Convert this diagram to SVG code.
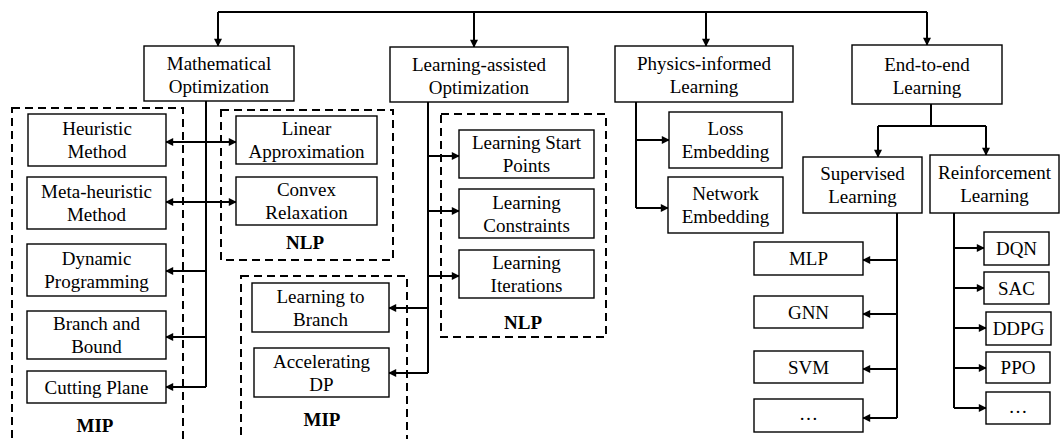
<svg xmlns="http://www.w3.org/2000/svg" width="1061" height="439" viewBox="0 0 1061 439">
<style>
.box{fill:#fff;stroke:#000;stroke-width:1.4}
.dash{fill:none;stroke:#000;stroke-width:2;stroke-dasharray:8 5}
.c{fill:none;stroke:#000;stroke-width:2}
.ar{marker-end:url(#ah)}
.ar2{marker-start:url(#ah);marker-end:url(#ah)}
text{font-family:"Liberation Serif","Times New Roman",serif;font-size:19px;fill:#000;text-anchor:middle}
.b{font-weight:bold}
</style>
<defs>
<marker id="ah" viewBox="0 0 10 10" refX="9" refY="5" markerWidth="9" markerHeight="8" orient="auto-start-reverse" markerUnits="userSpaceOnUse"><path d="M0,0 L10,5 L0,10 z" fill="#000"/></marker>
</defs>
<rect width="1061" height="439" fill="#fff"/>
<g id="groups">
<rect class="dash" x="12" y="108" width="171" height="345"/>
<text class="b" x="95" y="432">MIP</text>
<rect class="dash" x="221" y="110" width="172" height="150"/>
<text class="b" x="305" y="249">NLP</text>
<rect class="dash" x="241" y="276" width="166" height="180"/>
<text class="b" x="322" y="426">MIP</text>
<rect class="dash" x="441" y="114" width="165" height="223"/>
<text class="b" x="523" y="329">NLP</text>
</g>
<g id="connectors">
<path class="c" d="M218,12 H927"/>
<path class="c ar" d="M218,12 V46"/>
<path class="c ar" d="M474,12 V47"/>
<path class="c ar" d="M706,12 V46"/>
<path class="c ar" d="M927,12 V45"/>
<path class="c" d="M206,101 V387"/>
<path class="c ar2" d="M166,142 H236"/>
<path class="c ar2" d="M166,202 H236"/>
<path class="c ar" d="M206,271 H166"/>
<path class="c ar" d="M206,337 H166"/>
<path class="c ar" d="M206,387 H166"/>
<path class="c" d="M428,102 V373"/>
<path class="c ar" d="M428,156 H459"/>
<path class="c ar" d="M428,211 H459"/>
<path class="c ar" d="M428,276 H459"/>
<path class="c ar" d="M428,308 H389"/>
<path class="c ar" d="M428,373 H389"/>
<path class="c" d="M636,102 V208"/>
<path class="c ar" d="M636,140 H669"/>
<path class="c ar" d="M636,208 H668"/>
<path class="c" d="M931,104 V126 M878,126 H986"/>
<path class="c ar" d="M878,126 V157"/>
<path class="c ar" d="M986,126 V155"/>
<path class="c" d="M897,213 V418"/>
<path class="c ar" d="M897,260 H863"/>
<path class="c ar" d="M897,314 H863"/>
<path class="c ar" d="M897,369 H863"/>
<path class="c ar" d="M897,418 H863"/>
<path class="c" d="M954,213 V408"/>
<path class="c ar" d="M954,248 H984"/>
<path class="c ar" d="M954,288 H984"/>
<path class="c ar" d="M954,328 H986"/>
<path class="c ar" d="M954,368 H986"/>
<path class="c ar" d="M954,408 H986"/>
</g>
<g id="math"><rect class="box" x="144" y="46" width="150" height="55"/><text x="219" y="69.5">Mathematical</text><text x="219" y="92.5">Optimization</text></g>
<g id="la"><rect class="box" x="390" y="47" width="178" height="55"/><text x="479" y="70.5">Learning-assisted</text><text x="479" y="93.5">Optimization</text></g>
<g id="pil"><rect class="box" x="615" y="46" width="178" height="56"/><text x="704" y="70">Physics-informed</text><text x="704" y="93">Learning</text></g>
<g id="e2e"><rect class="box" x="852" y="45" width="150" height="59"/><text x="927" y="71">End-to-end</text><text x="927" y="94">Learning</text></g>
<g id="heuristic"><rect class="box" x="28" y="114" width="138" height="52"/><text x="97" y="135">Heuristic</text><text x="97" y="158">Method</text></g>
<g id="meta"><rect class="box" x="27" y="177" width="139" height="52"/><text x="96.5" y="198">Meta-heuristic</text><text x="96.5" y="221">Method</text></g>
<g id="dp"><rect class="box" x="27" y="244" width="139" height="52"/><text x="96.5" y="265">Dynamic</text><text x="96.5" y="288">Programming</text></g>
<g id="bb"><rect class="box" x="27" y="311" width="139" height="48"/><text x="96.5" y="330">Branch and</text><text x="96.5" y="353">Bound</text></g>
<g id="cp"><rect class="box" x="27" y="371" width="139" height="32"/><text x="96.5" y="393.5">Cutting Plane</text></g>
<g id="linear"><rect class="box" x="236" y="116" width="141" height="48"/><text x="306.5" y="135">Linear</text><text x="306.5" y="158">Approximation</text></g>
<g id="convex"><rect class="box" x="236" y="177" width="141" height="48"/><text x="306.5" y="196">Convex</text><text x="306.5" y="219">Relaxation</text></g>
<g id="l2b"><rect class="box" x="252" y="283" width="137" height="49"/><text x="320.5" y="302.5">Learning to</text><text x="320.5" y="325.5">Branch</text></g>
<g id="adp"><rect class="box" x="254" y="348" width="135" height="49"/><text x="321.5" y="367.5">Accelerating</text><text x="321.5" y="390.5">DP</text></g>
<g id="lsp"><rect class="box" x="459" y="130" width="135" height="48"/><text x="526.5" y="149">Learning Start</text><text x="526.5" y="172">Points</text></g>
<g id="lc"><rect class="box" x="459" y="189" width="135" height="49"/><text x="526.5" y="208.5">Learning</text><text x="526.5" y="231.5">Constraints</text></g>
<g id="li"><rect class="box" x="459" y="250" width="135" height="48"/><text x="526.5" y="269">Learning</text><text x="526.5" y="292">Iterations</text></g>
<g id="loss"><rect class="box" x="669" y="112" width="113" height="56"/><text x="725.5" y="135">Loss</text><text x="725.5" y="158">Embedding</text></g>
<g id="net"><rect class="box" x="668" y="177" width="115" height="56"/><text x="725.5" y="200">Network</text><text x="725.5" y="223">Embedding</text></g>
<g id="sl"><rect class="box" x="803" y="157" width="119" height="56"/><text x="862.5" y="180">Supervised</text><text x="862.5" y="203">Learning</text></g>
<g id="rl"><rect class="box" x="930" y="155" width="129" height="58"/><text x="994.5" y="179">Reinforcement</text><text x="994.5" y="202">Learning</text></g>
<g id="mlp"><rect class="box" x="754" y="242" width="109" height="33"/><text x="808.5" y="265">MLP</text></g>
<g id="gnn"><rect class="box" x="754" y="296" width="109" height="32"/><text x="808.5" y="318.5">GNN</text></g>
<g id="svm"><rect class="box" x="754" y="351" width="109" height="32"/><text x="808.5" y="373.5">SVM</text></g>
<g id="sdots"><rect class="box" x="754" y="399" width="109" height="33"/><text x="808.5" y="420">…</text></g>
<g id="dqn"><rect class="box" x="984" y="232" width="65" height="33"/><text x="1016.5" y="255">DQN</text></g>
<g id="sac"><rect class="box" x="984" y="272" width="65" height="32"/><text x="1016.5" y="294.5">SAC</text></g>
<g id="ddpg"><rect class="box" x="986" y="312" width="65" height="33"/><text x="1018.5" y="335">DDPG</text></g>
<g id="ppo"><rect class="box" x="986" y="352" width="64" height="31"/><text x="1018" y="374">PPO</text></g>
<g id="rdots"><rect class="box" x="986" y="392" width="64" height="32"/><text x="1018" y="412.5">…</text></g>
</svg>
